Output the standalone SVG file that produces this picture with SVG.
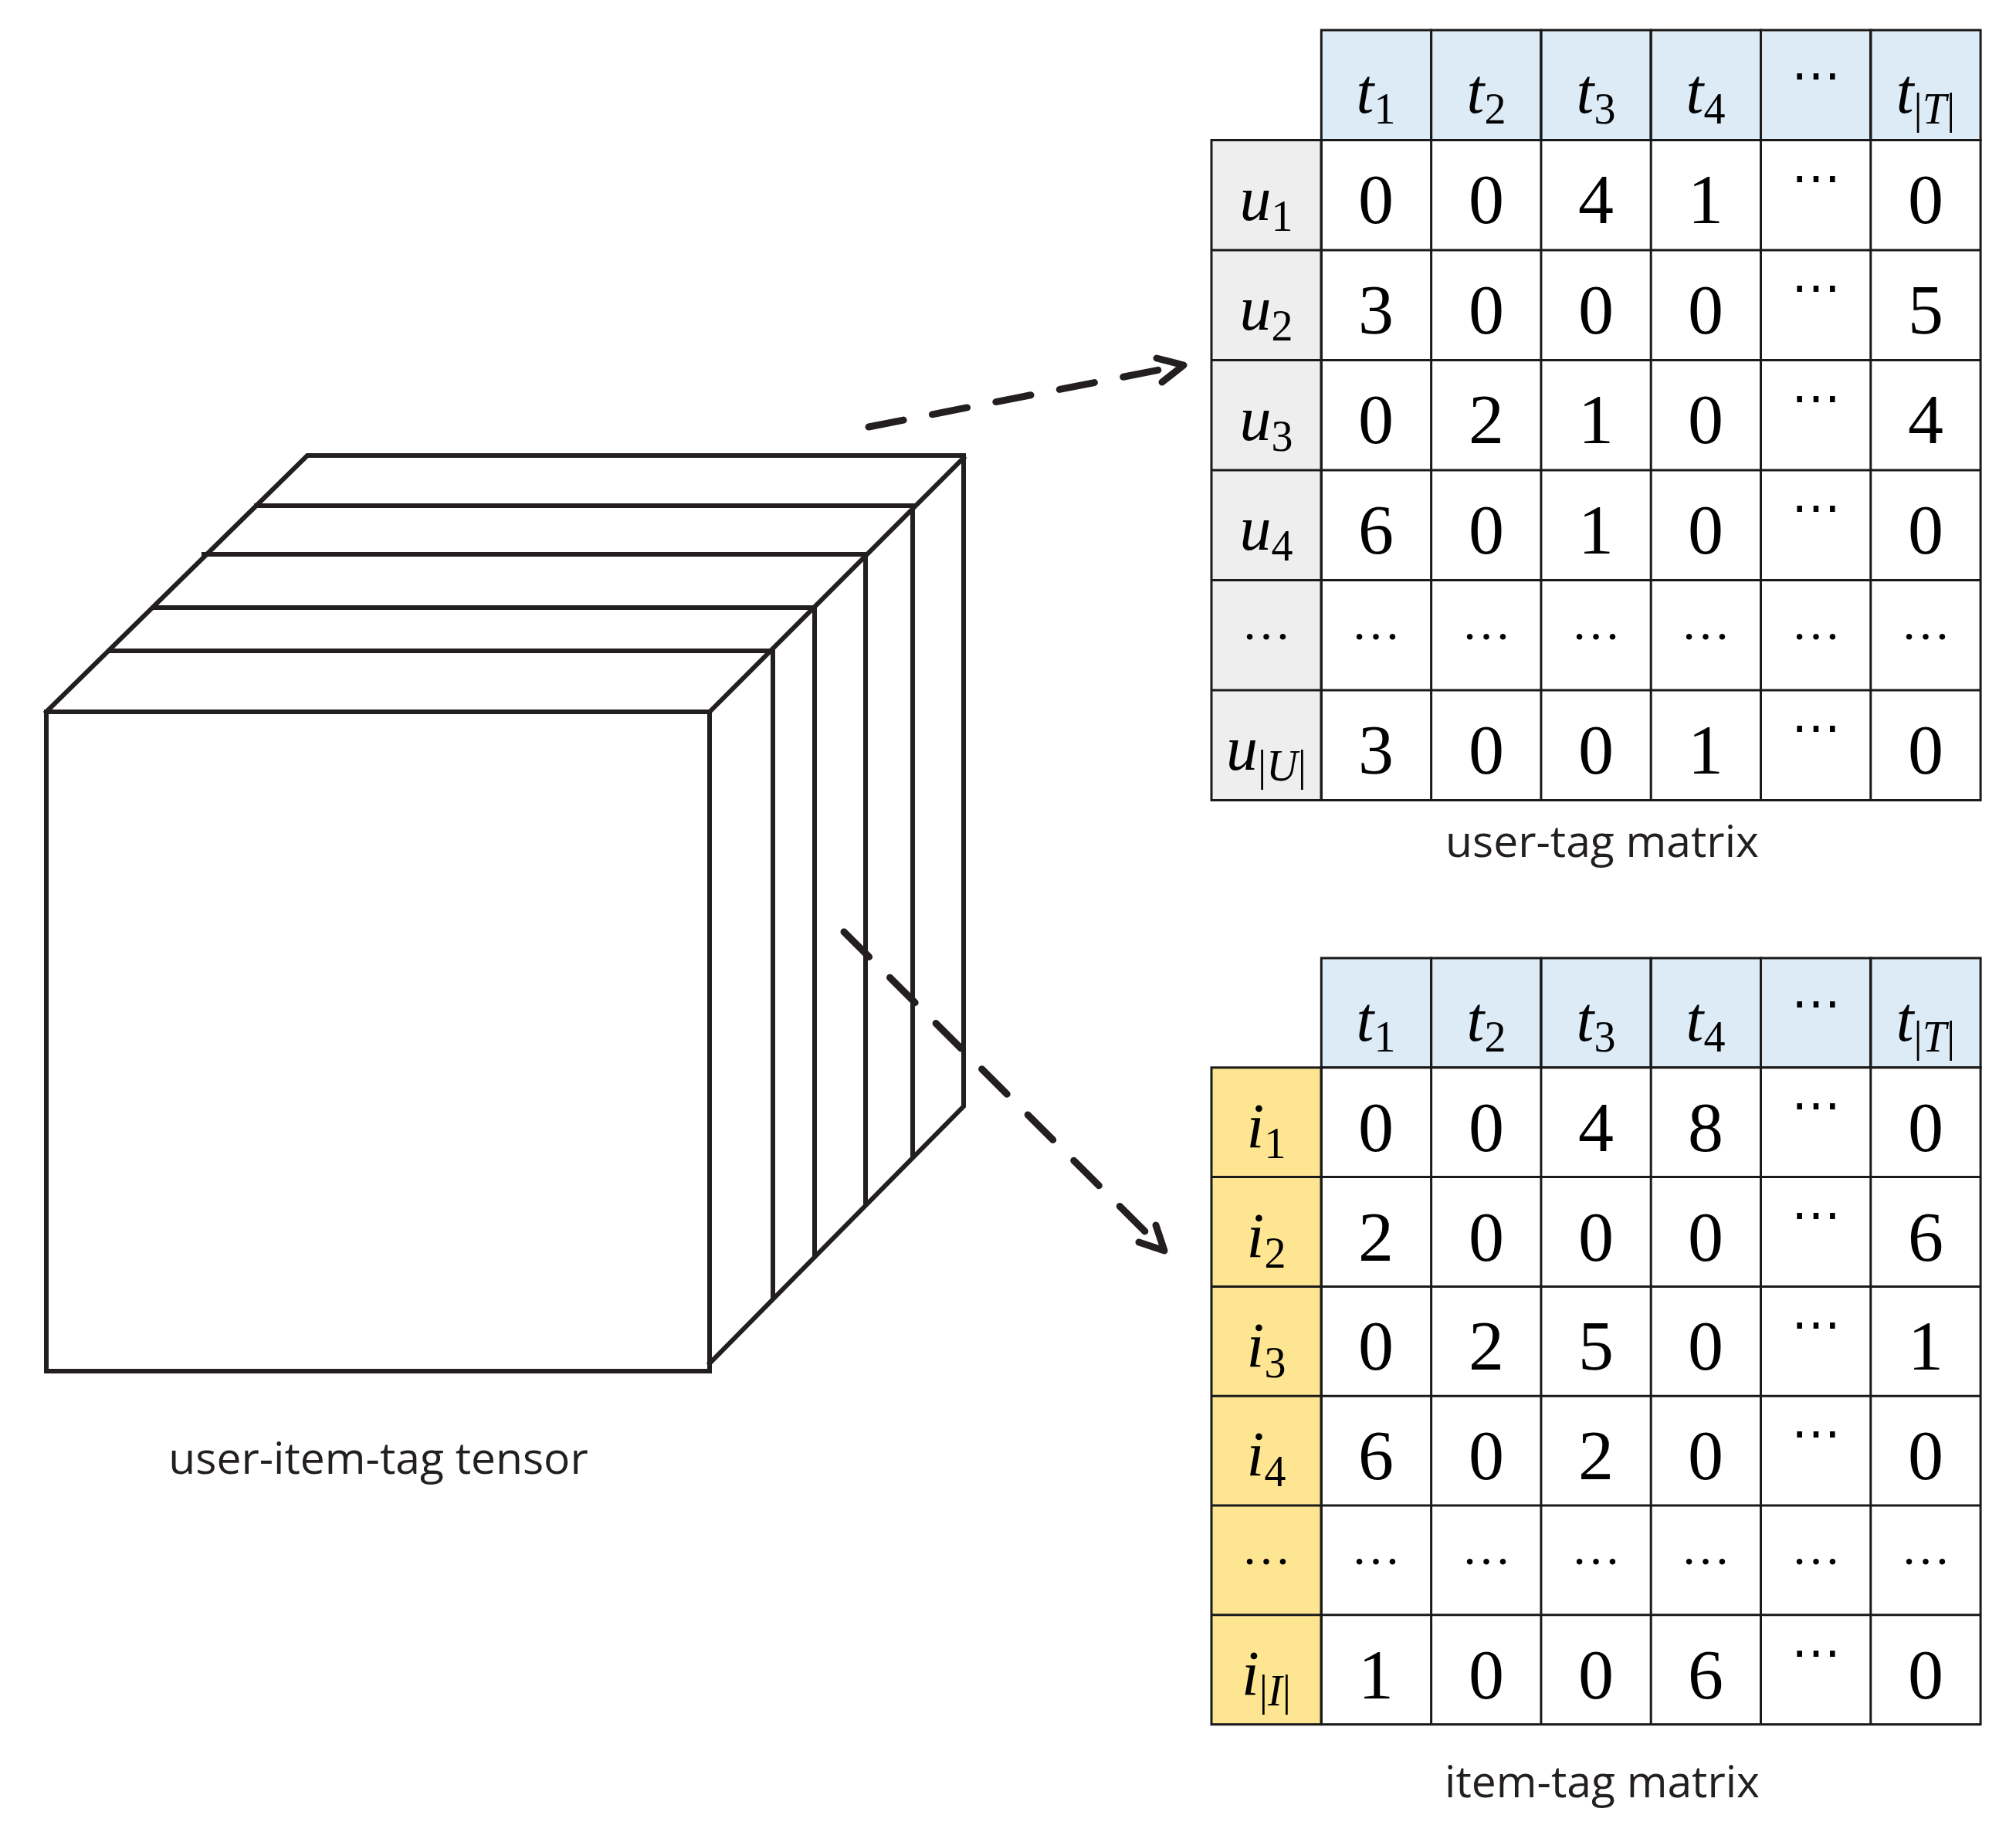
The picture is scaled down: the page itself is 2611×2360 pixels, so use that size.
<svg xmlns="http://www.w3.org/2000/svg" width="2611" height="2360" viewBox="0 0 2611 2360">
<style>
.cube{fill:none;stroke:#231f20;stroke-width:6;stroke-linecap:square}
.c{stroke:#1a1a1a;stroke-width:3}
.w{fill:#fff}.g{fill:#eeeeee}.b{fill:#ddebf7}.y{fill:#fde592}
.n{font-family:"Liberation Serif",serif;font-size:92px;text-anchor:middle;fill:#000}
.d{font-family:"Liberation Serif",serif;font-size:64px;text-anchor:middle;fill:#000}
.m{font-family:"Liberation Serif",serif;font-style:italic;font-size:82px;text-anchor:middle;fill:#000}
.s{font-style:normal;font-size:56px}
.lab{font-family:"Open Sans",sans-serif;font-size:57px;text-anchor:middle;fill:#231f20}
.dash{fill:none;stroke:#231f20;stroke-width:9;stroke-linecap:round;stroke-dasharray:46 38}
.head{fill:none;stroke:#231f20;stroke-width:9;stroke-linecap:round;stroke-linejoin:round}
</style>
<rect width="2611" height="2360" fill="#fff"/>
<g id="tensor">
<rect class="cube" x="60" y="922" width="859" height="854" fill="#fff"/>
<polyline class="cube" points="60,922 398,590 1248,590 1248,1433 919,1766"/>
<line class="cube" x1="919" y1="922" x2="1248" y2="593"/>
<polyline class="cube" points="332,655 1182,655 1182,1495"/>
<polyline class="cube" points="264,718 1121,718 1121,1557"/>
<polyline class="cube" points="200,787 1055,787 1055,1627"/>
<polyline class="cube" points="143,843 1001,843 1001,1681"/>
<text class="lab" x="490" y="1909">user-item-tag tensor</text>
</g>
<g id="connectors">
<line class="dash" x1="1125" y1="553" x2="1522" y2="475"/>
<polyline class="head" points="1498,464 1533,473 1505,495"/>
<line class="dash" x1="1093" y1="1207" x2="1500" y2="1612"/>
<polyline class="head" points="1497,1587 1508,1620 1475,1609"/>
</g>
<g id="user-tag-matrix">
<g class="c">
<rect class="b" x="1711.3" y="39" width="142.3" height="142.5"/><rect class="b" x="1853.6" y="39" width="142.3" height="142.5"/><rect class="b" x="1995.9" y="39" width="142.3" height="142.5"/><rect class="b" x="2138.2" y="39" width="142.3" height="142.5"/><rect class="b" x="2280.5" y="39" width="142.3" height="142.5"/><rect class="b" x="2422.8" y="39" width="142.3" height="142.5"/>
<rect class="g" x="1569" y="181.5" width="142.3" height="855"/>
<rect class="w" x="1711.3" y="181.5" width="853.8" height="855"/>
<path fill="none" d="M1569,324H2565M1569,466.5H2565M1569,609H2565M1569,751.5H2565M1569,894H2565M1711.3,181.5V1036.5M1853.6,39V1036.5M1995.9,39V1036.5M2138.2,39V1036.5M2280.5,39V1036.5M2422.8,39V1036.5"/>
</g>
<text class="m" y="146"><tspan x="1782">t<tspan class="s" dy="14">1</tspan></tspan></text>
<text class="m" y="146"><tspan x="1925">t<tspan class="s" dy="14">2</tspan></tspan></text>
<text class="m" y="146"><tspan x="2067">t<tspan class="s" dy="14">3</tspan></tspan></text>
<text class="m" y="146"><tspan x="2209">t<tspan class="s" dy="14">4</tspan></tspan></text>
<text class="d" x="2352" y="119">⋯</text>
<text class="m" x="2494" y="146">t<tspan class="s" dy="14">|<tspan font-style="italic">T</tspan>|</tspan></text>
<text class="m" x="1640" y="285">u<tspan class="s" dy="14">1</tspan></text>
<text class="m" x="1640" y="427">u<tspan class="s" dy="14">2</tspan></text>
<text class="m" x="1640" y="570">u<tspan class="s" dy="14">3</tspan></text>
<text class="m" x="1640" y="712">u<tspan class="s" dy="14">4</tspan></text>
<text class="d" x="1640" y="828">…</text>
<text class="m" x="1640" y="997">u<tspan class="s" dy="14">|<tspan font-style="italic">U</tspan>|</tspan></text>
<g class="n">
<text x="1782" y="289">0</text><text x="1925" y="289">0</text><text x="2067" y="289">4</text><text x="2209" y="289">1</text><text x="2494" y="289">0</text>
<text x="1782" y="432">3</text><text x="1925" y="432">0</text><text x="2067" y="432">0</text><text x="2209" y="432">0</text><text x="2494" y="432">5</text>
<text x="1782" y="574">0</text><text x="1925" y="574">2</text><text x="2067" y="574">1</text><text x="2209" y="574">0</text><text x="2494" y="574">4</text>
<text x="1782" y="717">6</text><text x="1925" y="717">0</text><text x="2067" y="717">1</text><text x="2209" y="717">0</text><text x="2494" y="717">0</text>
<text x="1782" y="1002">3</text><text x="1925" y="1002">0</text><text x="2067" y="1002">0</text><text x="2209" y="1002">1</text><text x="2494" y="1002">0</text>
</g>
<g class="d">
<text x="2352" y="252">⋯</text><text x="2352" y="394">⋯</text><text x="2352" y="537">⋯</text><text x="2352" y="679">⋯</text><text x="2352" y="964">⋯</text>
<text x="1782" y="828">…</text><text x="1925" y="828">…</text><text x="2067" y="828">…</text><text x="2209" y="828">…</text><text x="2352" y="828">…</text><text x="2494" y="828">…</text>
</g>
<text class="lab" x="2075" y="1110">user-tag matrix</text>
</g>
<g id="item-tag-matrix">
<g class="c">
<rect class="b" x="1711.3" y="1241" width="142.3" height="141.8"/><rect class="b" x="1853.6" y="1241" width="142.3" height="141.8"/><rect class="b" x="1995.9" y="1241" width="142.3" height="141.8"/><rect class="b" x="2138.2" y="1241" width="142.3" height="141.8"/><rect class="b" x="2280.5" y="1241" width="142.3" height="141.8"/><rect class="b" x="2422.8" y="1241" width="142.3" height="141.8"/>
<rect class="y" x="1569" y="1382.8" width="142.3" height="850.8"/>
<rect class="w" x="1711.3" y="1382.8" width="853.8" height="850.8"/>
<path fill="none" d="M1569,1524.6H2565M1569,1666.4H2565M1569,1808.2H2565M1569,1950H2565M1569,2091.8H2565M1711.3,1382.8V2233.6M1853.6,1241V2233.6M1995.9,1241V2233.6M2138.2,1241V2233.6M2280.5,1241V2233.6M2422.8,1241V2233.6"/>
</g>
<text class="m" x="1782" y="1348">t<tspan class="s" dy="14">1</tspan></text>
<text class="m" x="1925" y="1348">t<tspan class="s" dy="14">2</tspan></text>
<text class="m" x="2067" y="1348">t<tspan class="s" dy="14">3</tspan></text>
<text class="m" x="2209" y="1348">t<tspan class="s" dy="14">4</tspan></text>
<text class="d" x="2352" y="1321">⋯</text>
<text class="m" x="2494" y="1348">t<tspan class="s" dy="14">|<tspan font-style="italic">T</tspan>|</tspan></text>
<text class="m" x="1640" y="1486">i<tspan class="s" dy="14">1</tspan></text>
<text class="m" x="1640" y="1628">i<tspan class="s" dy="14">2</tspan></text>
<text class="m" x="1640" y="1770">i<tspan class="s" dy="14">3</tspan></text>
<text class="m" x="1640" y="1911">i<tspan class="s" dy="14">4</tspan></text>
<text class="d" x="1640" y="2026">…</text>
<text class="m" x="1640" y="2195">i<tspan class="s" dy="14">|<tspan font-style="italic">I</tspan>|</tspan></text>
<g class="n">
<text x="1782" y="1491">0</text><text x="1925" y="1491">0</text><text x="2067" y="1491">4</text><text x="2209" y="1491">8</text><text x="2494" y="1491">0</text>
<text x="1782" y="1633">2</text><text x="1925" y="1633">0</text><text x="2067" y="1633">0</text><text x="2209" y="1633">0</text><text x="2494" y="1633">6</text>
<text x="1782" y="1774">0</text><text x="1925" y="1774">2</text><text x="2067" y="1774">5</text><text x="2209" y="1774">0</text><text x="2494" y="1774">1</text>
<text x="1782" y="1916">6</text><text x="1925" y="1916">0</text><text x="2067" y="1916">2</text><text x="2209" y="1916">0</text><text x="2494" y="1916">0</text>
<text x="1782" y="2200">1</text><text x="1925" y="2200">0</text><text x="2067" y="2200">0</text><text x="2209" y="2200">6</text><text x="2494" y="2200">0</text>
</g>
<g class="d">
<text x="2352" y="1453">⋯</text><text x="2352" y="1595">⋯</text><text x="2352" y="1737">⋯</text><text x="2352" y="1878">⋯</text><text x="2352" y="2162">⋯</text>
<text x="1782" y="2026">…</text><text x="1925" y="2026">…</text><text x="2067" y="2026">…</text><text x="2209" y="2026">…</text><text x="2352" y="2026">…</text><text x="2494" y="2026">…</text>
</g>
<text class="lab" x="2075" y="2328">item-tag matrix</text>
</g>
</svg>
